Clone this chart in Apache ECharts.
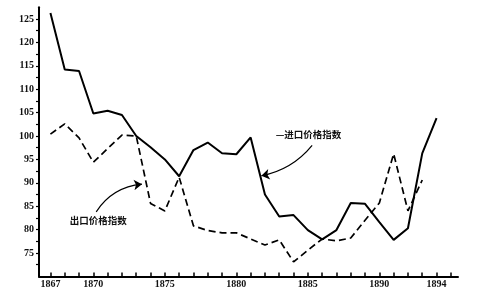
<!DOCTYPE html>
<html>
<head>
<meta charset="utf-8">
<script src="https://cdn.jsdelivr.net/npm/echarts@6/dist/echarts.min.js"></script>
<style>html,body{margin:0;padding:0;background:#fff;}#c{width:486px;height:301px;}</style>
</head>
<body>
<div id="c"></div>
<script>
const years = [1867,1868,1869,1870,1871,1872,1873,1874,1875,1876,1877,1878,1879,1880,1881,1882,1883,1884,1885,1886,1887,1888,1889,1890,1891,1892,1893,1894];
const importIndex = [126.3,114.2,113.9,104.8,105.4,104.5,100.0,97.6,95.0,91.4,97.0,98.6,96.3,96.1,99.7,87.5,82.8,83.1,79.9,77.9,79.9,85.7,85.5,81.6,77.8,80.3,96.3,103.8];
const exportIndex = [100.4,102.6,99.6,94.4,97.3,100.2,100.0,85.6,84.0,91.2,80.8,79.8,79.3,79.3,78.0,76.7,77.8,73.1,75.6,78.0,77.6,78.2,82.0,85.7,96.2,84.0,90.6];
const xLabelYears = [1867,1870,1875,1880,1885,1890,1894];
const xTickYears = [1867,1868,1869,1870,1871,1872,1873,1874,1875,1876,1877,1878,1879,1880,1881,1882,1883,1884,1885,1886,1887,1888,1889,1890,1891,1892,1893,1894,1895];
const yLabels = [75,80,85,90,95,100,105,110,115,120,125];
const yTicks = [72.5,75,77.5,80,82.5,85,87.5,90,92.5,95,97.5,100,102.5,105,107.5,110,112.5,115,117.5,120,122.5,125];
const importLabel = '—进口价格指数';
const exportLabel = '出口价格指数';
// annotation anchors in data coordinates
const importArrow = [[1885.3, 98.0], [1881.75, 91.5]];
const exportArrow = [[1870.2, 83.8], [1873.4, 89.7]];
const importLabelAt = [1882.75, 100.4];
const exportLabelAt = [1868.35, 82.05];

const chart = echarts.init(document.getElementById('c'), null, {renderer:'canvas'});
const axisFont = {fontFamily:'Liberation Serif', fontWeight:'bold', fontSize:10, color:'#111', formatter:function(v){return String(v);}};
const imp = years.map((y,i)=>[y, importIndex[i]]);
const exp = exportIndex.map((v,i)=>[years[i], v]);
chart.setOption({
  animation:false,
  backgroundColor:'#fff',
  grid:{left:39, right:28, top:7.3, bottom:24.6, outerBoundsMode:'none'},
  xAxis:{type:'value', min:1866.2, max:1895.5,
    axisLine:{onZero:false, lineStyle:{color:'#000', width:2}},
    axisTick:{inside:true, length:4, customValues:xTickYears, lineStyle:{color:'#000', width:1.5}},
    axisLabel:Object.assign({customValues:xLabelYears, margin:3}, axisFont),
    splitLine:{show:false}},
  yAxis:{type:'value', min:70, max:127.5,
    axisLine:{show:true, onZero:false, lineStyle:{color:'#000', width:2}},
    axisTick:{show:true, inside:false, length:3, customValues:yTicks, lineStyle:{color:'#000', width:1.2}},
    axisLabel:Object.assign({customValues:yLabels, margin:5}, axisFont),
    splitLine:{show:false}},
  series:[
    {type:'line', data:imp, symbol:'none', lineStyle:{color:'#000', width:2}},
    {type:'line', data:exp, symbol:'none', lineStyle:{color:'#000', width:1.7, type:[7,4]}},
    {type:'lines', coordinateSystem:'cartesian2d', silent:true,
     symbol:['none','arrow'], symbolSize:[6,8],
     data:[
       {coords:importArrow, lineStyle:{curveness:0.18}},
       {coords:exportArrow, lineStyle:{curveness:0.24}}
     ],
     lineStyle:{color:'#000', width:1.2, opacity:1}}
  ]
});
const p1 = chart.convertToPixel({gridIndex:0}, importLabelAt);
const p2 = chart.convertToPixel({gridIndex:0}, exportLabelAt);
chart.setOption({graphic:[
  {type:'text', x:p1[0], y:p1[1], style:{text:importLabel, fontFamily:'Noto Sans CJK SC', fontWeight:'bold', fontSize:9.5, fill:'#111', align:'left', verticalAlign:'middle'}},
  {type:'text', x:p2[0], y:p2[1], style:{text:exportLabel, fontFamily:'Noto Sans CJK SC', fontWeight:'bold', fontSize:9.5, fill:'#111', align:'left', verticalAlign:'middle'}}
]});
</script>
</body>
</html>
